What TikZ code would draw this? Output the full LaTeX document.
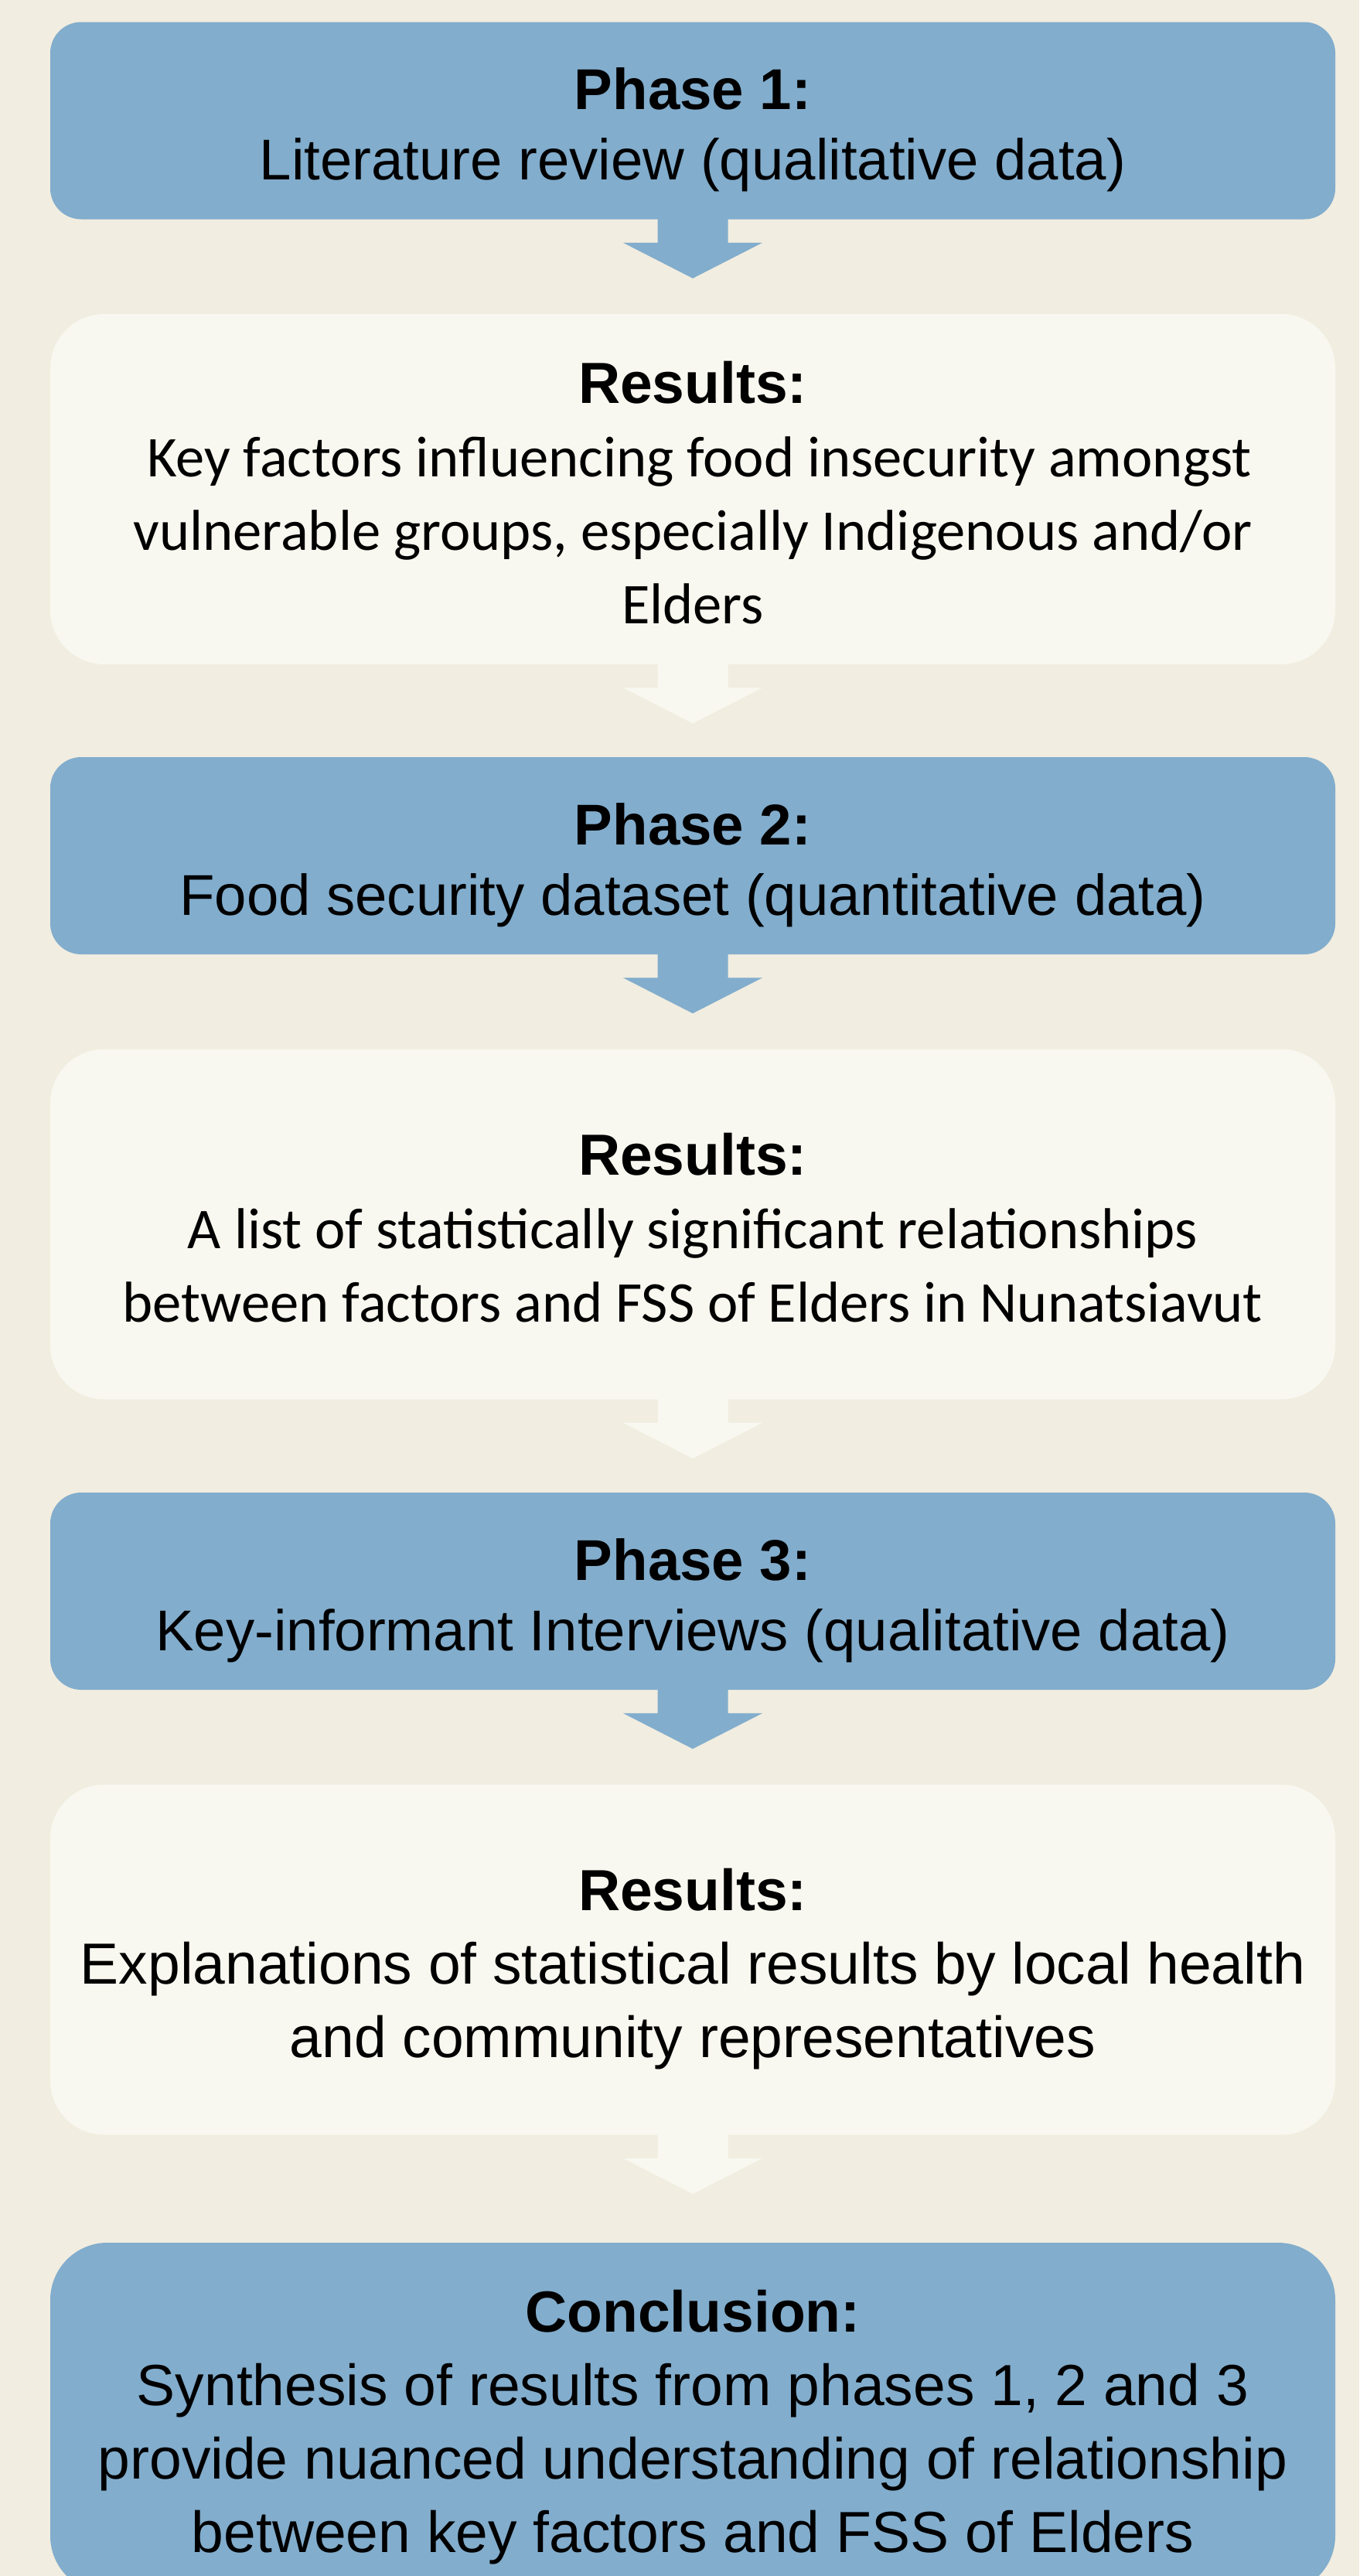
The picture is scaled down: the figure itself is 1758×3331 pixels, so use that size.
\documentclass[tikz,border=0pt]{standalone}
\usepackage{fontspec}
\setmainfont{Liberation Sans}
\newfontfamily\calib{Carlito}
\usetikzlibrary{calc}
\definecolor{bgc}{HTML}{F1EDE0}
\definecolor{bluec}{HTML}{82ADCD}
\definecolor{lightc}{HTML}{F8F8F0}
\newcommand{\cb}{\calib\fontsize{37.3}{47.5}\selectfont}
\newcommand{\topst}{\rule{0pt}{39.4pt}}
\newcommand{\botst}{\rule[-8pt]{0pt}{8pt}}
\newcommand{\blockarrow}[2]{%
  \fill[#2] ($(#1.south)+(-45.5,-2)$) -- ($(#1.south)+(-45.5,30)$) -- ($(#1.south)+(-90,30)$)
    -- ($(#1.south)+(0,76)$) -- ($(#1.south)+(90,30)$) -- ($(#1.south)+(45.5,30)$)
    -- ($(#1.south)+(45.5,-2)$) -- cycle;}
\begin{document}
\begin{tikzpicture}[x=0.5pt,y=-0.5pt,
  box/.style={minimum width=831pt, align=center, inner sep=0pt, text=black},
  phasebox/.style={box, fill=bluec, minimum height=127.5pt, rounded corners=20pt,
    font=\fontsize{37.2}{45.5}\selectfont},
  resbox/.style={box, fill=lightc, minimum height=226.5pt, rounded corners=35pt,
    font=\fontsize{37.5}{47.5}\selectfont},
  concbox/.style={box, fill=bluec, minimum height=226.5pt, rounded corners=37pt,
    font=\fontsize{37.5}{47.5}\selectfont}]
\useasboundingbox (0,0) rectangle (1758,3331);
\fill[bgc] (0,0) rectangle (1758,3331);

\node[phasebox] (p1) at (896,156) {\topst\textbf{Phase 1:}\\Literature review (qualitative data)\botst};
\node[resbox] (r1) at (896,632.5) {\topst\textbf{Results:}\\{\cb\ Key factors influencing food insecurity amongst}\\{\cb vulnerable groups, especially Indigenous and/or}\\{\cb Elders}\botst};
\node[phasebox] (p2) at (896,1106.5) {\topst\textbf{Phase 2:}\\Food security dataset (quantitative data)\botst};
\node[resbox] (r2) at (896,1583) {\topst\textbf{Results:}\\{\cb A list of statistically significant relationships}\\{\cb between factors and FSS of Elders in Nunatsiavut}\botst};
\node[phasebox] (p3) at (896,2057.5) {\topst\textbf{Phase 3:}\\Key-informant Interviews (qualitative data)\botst};
\node[resbox] (r3) at (896,2534) {\topst\textbf{Results:}\\Explanations of statistical results by local health\\and community representatives\botst};
\node[concbox] (c) at (896,3126.5) {\topst\textbf{Conclusion:}\\Synthesis of results from phases 1, 2 and 3\\provide nuanced understanding of relationship\\between key factors and FSS of Elders\botst};

\blockarrow{p1}{bluec}
\blockarrow{r1}{lightc}
\blockarrow{p2}{bluec}
\blockarrow{r2}{lightc}
\blockarrow{p3}{bluec}
\blockarrow{r3}{lightc}
\end{tikzpicture}
\end{document}
